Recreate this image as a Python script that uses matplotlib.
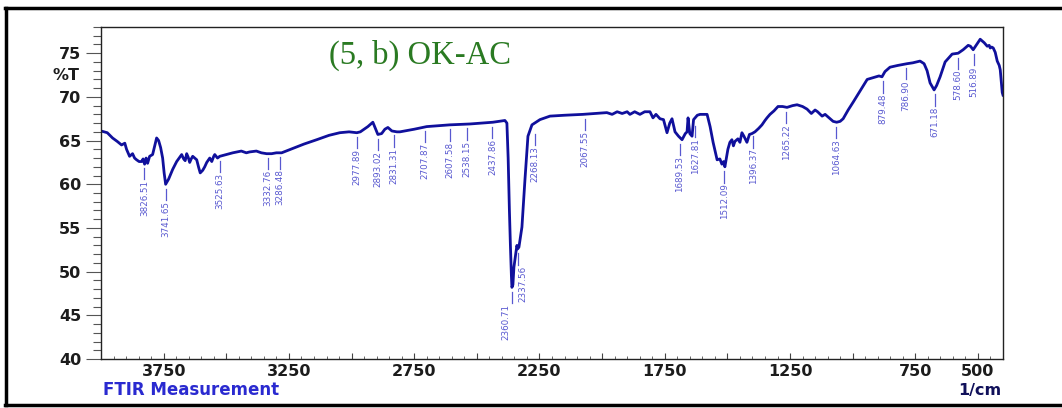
import matplotlib
matplotlib.use("Agg")
import matplotlib.pyplot as plt
from matplotlib.lines import Line2D
from matplotlib.ticker import FixedLocator, MultipleLocator, NullFormatter

# ---- data ----
wavenumber = [4000, 3975, 3954, 3935, 3918, 3905, 3898, 3886, 3874, 3866, 3858, 3848, 3838, 3832,
              3826, 3820, 3814, 3806, 3794, 3785, 3778, 3770, 3762, 3754, 3748, 3742, 3730, 3714,
              3698, 3678, 3670, 3664, 3658, 3652, 3646, 3640, 3634, 3626, 3618, 3610, 3604, 3594,
              3586, 3578, 3566, 3558, 3550, 3546, 3535, 3526, 3500, 3474, 3440, 3420, 3407, 3380,
              3360, 3339, 3319, 3300, 3279, 3235, 3190, 3139, 3090, 3047, 3010, 2979, 2965, 2955,
              2935, 2915, 2905, 2895, 2880, 2867, 2855, 2839, 2819, 2807, 2750, 2700, 2608, 2528,
              2436, 2388, 2380, 2375, 2370, 2366, 2362, 2360, 2356, 2352, 2348, 2344, 2340, 2337,
              2332, 2320, 2308, 2296, 2280, 2248, 2208, 2150, 2077, 2030, 1981, 1960, 1940, 1920,
              1900, 1889, 1870, 1849, 1830, 1809, 1797, 1785, 1769, 1755, 1741, 1730, 1721, 1709,
              1695, 1681, 1668, 1661, 1657, 1650, 1641, 1635, 1629, 1620, 1609, 1581, 1569, 1557,
              1541, 1530, 1522, 1515, 1510, 1498, 1490, 1482, 1476, 1470, 1458, 1450, 1442, 1434,
              1422, 1412, 1402, 1390, 1375, 1362, 1350, 1342, 1330, 1314, 1298, 1280, 1262, 1240,
              1222, 1200, 1182, 1165, 1150, 1140, 1122, 1110, 1098, 1078, 1064, 1050, 1038, 1018,
              998, 970, 942, 918, 895, 883, 871, 851, 820, 783, 760, 731, 715, 703, 691, 675, 665,
              651, 631, 603, 579, 559, 539, 530, 519, 505, 491, 475, 463, 455, 451, 445, 439, 431,
              423, 415, 411, 403, 400]
transmittance = [66.1, 65.9, 65.3, 64.9, 64.5, 64.7, 64.0, 63.2, 63.5, 63.0, 62.8, 62.6, 62.6, 62.9,
                 62.3, 63.0, 62.4, 63.2, 63.4, 64.5, 65.3, 65.0, 64.2, 63.0, 61.3, 60.0, 60.6, 61.7,
                 62.6, 63.4, 62.9, 62.7, 63.5, 63.1, 62.5, 62.9, 63.2, 63.0, 62.8, 61.9, 61.3, 61.6,
                 62.0, 62.5, 63.0, 62.6, 63.2, 63.4, 63.0, 63.2, 63.4, 63.6, 63.8, 63.6, 63.7, 63.8,
                 63.6, 63.5, 63.5, 63.6, 63.6, 64.1, 64.6, 65.1, 65.6, 65.9, 66.0, 65.9, 66.0, 66.2,
                 66.6, 67.1, 66.4, 65.7, 65.8, 66.3, 66.5, 66.1, 66.0, 66.0, 66.3, 66.6, 66.8, 66.9,
                 67.1, 67.3, 67.0, 63.0, 57.0, 53.0, 49.5, 48.2, 48.5, 50.5, 51.4, 52.2, 53.0, 52.6,
                 52.8, 55.1, 60.5, 65.5, 66.8, 67.4, 67.8, 67.9, 68.0, 68.1, 68.2, 68.0, 68.3, 68.1,
                 68.3, 68.0, 68.3, 68.0, 68.3, 68.3, 67.6, 68.0, 67.5, 67.4, 65.9, 67.0, 67.5, 66.0,
                 65.5, 65.1, 65.8, 66.0, 67.6, 65.8, 65.5, 67.4, 67.6, 67.9, 68.0, 68.0, 66.6, 64.8,
                 62.8, 62.9, 62.3, 62.6, 62.0, 64.0, 64.8, 65.1, 64.4, 64.9, 65.2, 64.8, 65.9, 65.5,
                 64.8, 65.7, 65.8, 66.0, 66.4, 66.8, 67.3, 67.6, 68.0, 68.4, 68.9, 68.9, 68.8, 69.0,
                 69.1, 68.9, 68.6, 68.1, 68.5, 68.3, 67.8, 68.0, 67.7, 67.2, 67.1, 67.2, 67.5, 68.5,
                 69.4, 70.7, 72.0, 72.2, 72.4, 72.3, 72.9, 73.4, 73.6, 73.8, 73.9, 74.1, 73.8, 73.0,
                 71.6, 70.8, 71.3, 72.3, 74.0, 74.9, 75.0, 75.4, 75.9, 75.8, 75.4, 76.0, 76.6, 76.2,
                 75.8, 75.9, 75.6, 75.7, 75.6, 75.1, 74.1, 73.6, 73.1, 70.5, 70.2]

peak_wn = [3826.51, 3741.65, 3525.63, 3332.76, 3286.48, 2977.89, 2893.02, 2831.31, 2707.87,
           2607.58, 2538.15, 2437.86, 2360.71, 2337.56, 2268.13, 2067.55, 1689.53, 1627.81,
           1512.09, 1396.37, 1265.22, 1064.63, 879.48, 786.90, 671.18, 578.60, 516.89]
peak_T = [62.4, 60.0, 63.2, 63.5, 63.6, 65.9, 65.7, 66.1, 66.6, 66.8, 66.9, 67.1, 48.2, 52.6,
          66.3, 68.0, 65.1, 67.2, 62.0, 66.0, 68.8, 67.1, 72.3, 73.8, 70.8, 75.0, 75.4]

xtick_pos = [3750, 3250, 2750, 2250, 1750, 1250, 750, 500]
xtick_lab = ["3750", "3250", "2750", "2250", "1750", "1250", "750", "500"]
ytick_pos = [40, 45, 50, 55, 60, 65, 70, 75]

title_text = "(5, b) OK-AC"

# ---- figure ----
fig = plt.figure(figsize=(10.62, 4.08), dpi=100)
ax = fig.add_axes([101 / 1062, 49 / 408, 902 / 1062, 332 / 408])

line_color = "#10109c"
ax.plot(wavenumber, transmittance, color=line_color, lw=2.0, solid_joinstyle="round")

ax.set_xlim(4000, 400)
ax.set_ylim(40, 78)

# peak labels (small horizontal nudges for the crowded CO2 doublet)
lab_color = "#5858d0"
label_dx = {2360.71: -4, 2337.56: 4}
for w, t in zip(peak_wn, peak_T):
    ax.plot([w, w], [t - 0.5, t - 1.8], color=lab_color, lw=0.9)
    ax.annotate(f"{w:.2f}", xy=(w, t - 1.9), xytext=(label_dx.get(w, 0), 0),
                textcoords="offset points", rotation=90, ha="center", va="top",
                fontsize=6.3, color=lab_color,
                family=["Liberation Sans Narrow", "DejaVu Sans"])

# y axis ticks
tick_font = "DejaVu Sans"
ax.yaxis.set_major_locator(FixedLocator(ytick_pos))
ax.yaxis.set_minor_locator(MultipleLocator(1))
ax.tick_params(axis="y", which="major", direction="out", length=11, width=0.8,
               color="#555555", pad=3, labelsize=11.5)
ax.tick_params(axis="y", which="minor", direction="out", length=5.5, width=0.8,
               color="#555555")
for lab in ax.get_yticklabels():
    lab.set_fontweight("bold")
    lab.set_family(tick_font)
    lab.set_color("#1c1c1c")

# x axis ticks
major_x = list(range(3750, 400, -250))
ax.xaxis.set_major_locator(FixedLocator(major_x))
ax.xaxis.set_major_formatter(NullFormatter())
ax.xaxis.set_minor_locator(MultipleLocator(50))
ax.tick_params(axis="x", which="major", direction="in", length=4, width=0.8, color="#444444")
ax.tick_params(axis="x", which="minor", direction="in", length=2, width=0.7, color="#666666")
for p, s in zip(xtick_pos, xtick_lab):
    ax.text(p, -0.015, s, transform=ax.get_xaxis_transform(), ha="center", va="top",
            fontsize=11.5, fontweight="bold", family=tick_font, color="#1c1c1c")

for sp in ax.spines.values():
    sp.set_linewidth(1.0)
    sp.set_color("#222222")

# texts
fig.text(66 / 1062, 1 - 76 / 408, "%T", ha="center", va="center", fontsize=11.5,
         fontweight="bold", family=tick_font, color="#1c1c1c")
fig.text(103 / 1062, 1 - 390 / 408, "FTIR Measurement", ha="left", va="center",
         fontsize=12, fontweight="bold", family=tick_font, color="#2a2ad0")
fig.text(1001 / 1062, 1 - 390 / 408, "1/cm", ha="right", va="center", fontsize=11.5,
         fontweight="bold", family=tick_font, color="#10105a")
ax.text(0.354, 0.916, title_text, transform=ax.transAxes, ha="center", va="center",
        fontsize=23.5, family="Liberation Serif", color="#2a7a22")

# outer frame
fw = 2.5
fig.add_artist(Line2D([5 / 1062, 1.0], [1 - 8 / 408, 1 - 8 / 408], color="black", lw=fw,
                      transform=fig.transFigure))
fig.add_artist(Line2D([5 / 1062, 1.0], [1 - 405 / 408, 1 - 405 / 408], color="black", lw=fw,
                      transform=fig.transFigure))
fig.add_artist(Line2D([6 / 1062, 6 / 1062], [1 - 8 / 408, 1 - 405 / 408], color="black", lw=fw,
                      transform=fig.transFigure))

fig.savefig("out.png", dpi=100)
